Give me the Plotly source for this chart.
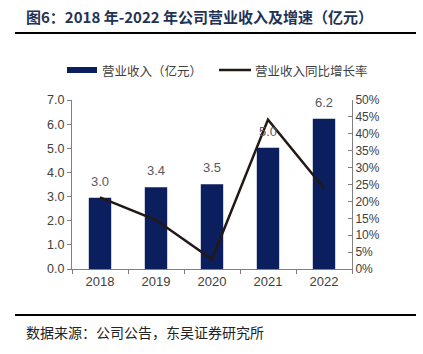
import plotly.graph_objects as go

years = ["2018", "2019", "2020", "2021", "2022"]
revenue = [2.95, 3.39, 3.51, 5.02, 6.22]
revenue_labels = ["3.0", "3.4", "3.5", "5.0", "6.2"]
growth = [21.2, 14.5, 2.9, 44.2, 23.9]

left_ticks = [0, 1, 2, 3, 4, 5, 6, 7]
left_ticktext = ["0.0", "1.0", "2.0", "3.0", "4.0", "5.0", "6.0", "7.0"]
right_ticks = [0, 5, 10, 15, 20, 25, 30, 35, 40, 45, 50]
right_ticktext = [f"{v}%" for v in right_ticks]

BAR = "#0b1f5e"
LINE = "#231815"
AX = "#808080"
TXT = "#404040"

fig = go.Figure()
fig.add_trace(go.Bar(
    x=years, y=revenue,
    marker=dict(color=BAR, line=dict(width=0)),
    name="营业收入（亿元）", showlegend=False,
))
fig.add_trace(go.Scatter(
    x=years, y=growth, yaxis="y2", mode="lines",
    line=dict(color=LINE, width=2.5), name="营业收入同比增长率", showlegend=False,
))

# value labels: category index on the x axis, value on the y axis
for i, (v, lab) in enumerate(zip(revenue, revenue_labels)):
    fig.add_annotation(x=i, y=v, xref="x", yref="y", text=lab, showarrow=False,
                       yanchor="bottom", yshift=7,
                       font=dict(family="Liberation Sans, Arial", size=13, color="#595959"))

W, H = 423, 354
L, R, T, B = 72, 352, 100, 269

def px(x):
    return (x - L) / (R - L)

def py(y):
    return (B - y) / (B - T)

fig.update_layout(
    width=W, height=H,
    margin=dict(l=L, r=W - R, t=T, b=H - B),
    paper_bgcolor="white", plot_bgcolor="white",
    bargap=0.6,
    font=dict(family="Liberation Sans, Arial", color=TXT),
    xaxis=dict(
        type="category", range=[-0.5, len(years) - 0.5],
        showline=True, linecolor=AX, linewidth=1,
        ticks="outside", ticklen=4, tickcolor=AX, tickson="boundaries",
        tickfont=dict(size=13, color=TXT), showgrid=False,
    ),
    yaxis=dict(
        range=[0, 7], tickvals=left_ticks, ticktext=left_ticktext,
        showline=True, linecolor=AX, linewidth=1,
        ticks="outside", ticklen=4, tickcolor=AX,
        tickfont=dict(size=12.5, color=TXT), showgrid=False, zeroline=False,
    ),
    yaxis2=dict(
        range=[0, 50], tickvals=right_ticks, ticktext=right_ticktext,
        overlaying="y", side="right",
        showline=True, linecolor=AX, linewidth=1,
        ticks="inside", ticklen=4, tickcolor=AX,
        tickfont=dict(size=12, color=TXT), showgrid=False, zeroline=False,
    ),
)

shapes = [
    dict(type="line", xref="paper", yref="paper", x0=px(15), x1=px(416), y0=py(33), y1=py(33),
         line=dict(color="black", width=2)),
    dict(type="line", xref="paper", yref="paper", x0=px(15), x1=px(416), y0=py(315), y1=py(315),
         line=dict(color="black", width=2)),
    dict(type="rect", xref="paper", yref="paper", x0=px(67), x1=px(97), y0=py(73), y1=py(67),
         fillcolor=BAR, line=dict(width=0)),
    dict(type="line", xref="paper", yref="paper", x0=px(219), x1=px(251), y0=py(70), y1=py(70),
         line=dict(color=LINE, width=2.5)),
]
fig.update_layout(shapes=shapes)

anns = [
    dict(text="<b>图6：2018 年-2022 年公司营业收入及增速（亿元）</b>", x=px(24), y=py(17),
         font=dict(family="Noto Sans CJK SC", size=15, color="#1f3356")),
    dict(text="营业收入（亿元）", x=px(100), y=py(70),
         font=dict(family="Noto Sans CJK SC", size=12.5, color=TXT)),
    dict(text="营业收入同比增长率", x=px(253), y=py(70),
         font=dict(family="Noto Sans CJK SC", size=12.5, color=TXT)),
    dict(text="数据来源：公司公告，东吴证券研究所", x=px(24), y=py(332),
         font=dict(family="Noto Sans CJK SC", size=14, color="#222222")),
]
for a in anns:
    fig.add_annotation(xref="paper", yref="paper", xanchor="left", yanchor="middle",
                       showarrow=False, **a)

fig.write_html("out.html")
